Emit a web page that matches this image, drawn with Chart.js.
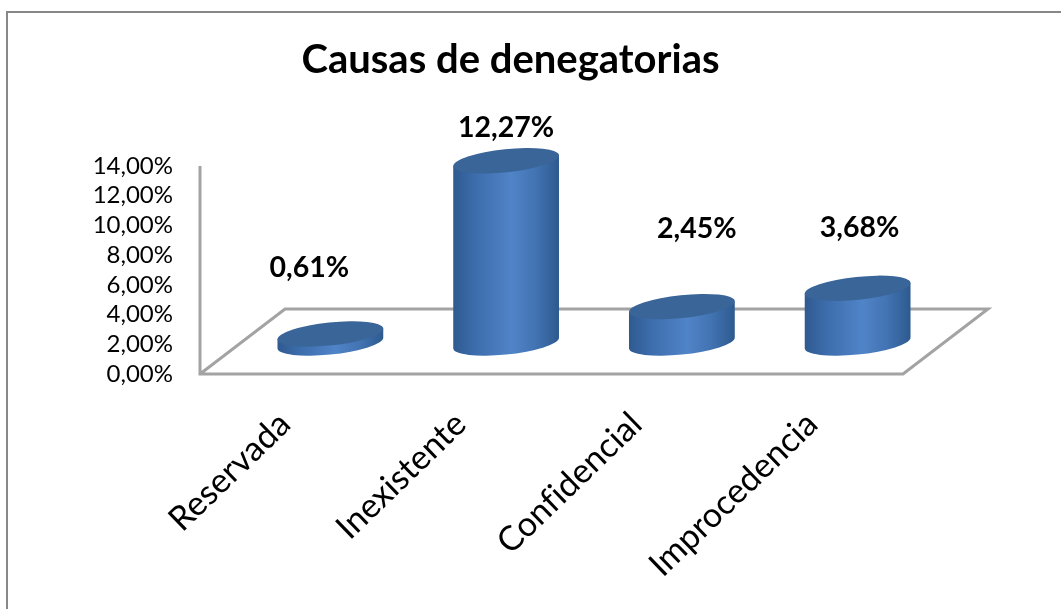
<!DOCTYPE html>
<html><head><meta charset="utf-8">
<style>html,body{margin:0;padding:0;background:#fff}#w{width:1061px;height:609px}</style>
<script src="https://cdn.jsdelivr.net/npm/chart.js@4"></script></head>
<body><div id="w"><canvas id="c" width="1061" height="609"></canvas></div>
<script>
const titleText = 'Causas de denegatorias';
const categories = ['Reservada','Inexistente','Confidencial','Improcedencia'];
const values = [0.61,12.27,2.45,3.68];
const yMax = 14, yStep = 2;
const labelShiftX = [-21,0,15,2];
const labelShiftY = [-66,-33,-78,-61];
const FONT = 'Lato, Carlito, "Open Sans", sans-serif';
const fmt = v => v.toFixed(2).replace('.',',') + '%';

const DEPTH_X = 85, DEPTH_Y = 65, RY = 11.5, ROT = -6*Math.PI/180;

function cylinder(ctx, cx, topY, baseY, rx){
  const t0 = Math.atan((RY/rx)*Math.tan(-ROT));
  const ex = rx*Math.cos(t0)*Math.cos(ROT) - RY*Math.sin(t0)*Math.sin(ROT);
  const ey = rx*Math.cos(t0)*Math.sin(ROT) + RY*Math.sin(t0)*Math.cos(ROT);
  const g = ctx.createLinearGradient(cx-ex,0,cx+ex,0);
  g.addColorStop(0,'#2f5a90');g.addColorStop(0.2,'#3c6cab');g.addColorStop(0.55,'#5084c8');
  g.addColorStop(0.78,'#4273b2');g.addColorStop(1,'#2d5a8f');
  ctx.beginPath();
  ctx.moveTo(cx-ex,topY-ey);
  ctx.lineTo(cx-ex,baseY-ey);
  ctx.ellipse(cx,baseY,rx,RY,ROT,t0+Math.PI,t0,true);
  ctx.lineTo(cx+ex,topY+ey);
  ctx.closePath();
  ctx.fillStyle=g;ctx.fill();
  ctx.beginPath();
  ctx.ellipse(cx,topY,rx,RY,ROT,0,Math.PI*2);
  ctx.fillStyle='#3a6598';ctx.fill();
}

const scene = {
  id:'scene',
  beforeDraw(chart){ chart.ctx.textRendering='optimizeSpeed'; },
  beforeDatasetsDraw(chart){
    const {ctx,chartArea:a}=chart;
    ctx.save();
    ctx.strokeStyle='#888';ctx.lineWidth=2;
    ctx.beginPath();ctx.moveTo(7,609);ctx.lineTo(7,12);ctx.lineTo(1061,12);ctx.stroke();
    ctx.strokeStyle='#a3a3a3';ctx.lineWidth=3;ctx.lineJoin='miter';
    ctx.beginPath();
    ctx.moveTo(a.left,a.top);ctx.lineTo(a.left,a.bottom);ctx.lineTo(a.right,a.bottom);
    ctx.lineTo(a.right+DEPTH_X,a.bottom-DEPTH_Y);ctx.lineTo(a.left+DEPTH_X,a.bottom-DEPTH_Y);
    ctx.lineTo(a.left,a.bottom);ctx.stroke();
    ctx.restore();
  },
  afterDatasetsDraw(chart){
    const {ctx}=chart;
    const bars=chart.getDatasetMeta(0).data;
    ctx.save();
    bars.forEach((b,i)=>{
      const cx=b.x+DEPTH_X/2, off=DEPTH_Y/2-1.5;
      cylinder(ctx,cx,b.y-off,b.base-off,b.width/2);
      ctx.fillStyle='#000';ctx.font='bold 28.5px '+FONT;ctx.textAlign='center';ctx.textBaseline='middle';
      ctx.fillText(fmt(values[i]),cx+labelShiftX[i],b.y-off+labelShiftY[i]);
    });
    ctx.restore();
  }
};

new Chart(document.getElementById('c'),{
  type:'bar',
  data:{labels:categories,datasets:[{data:values,backgroundColor:'rgba(0,0,0,0)',categoryPercentage:1,barPercentage:0.605}]},
  plugins:[scene],
  options:{
    responsive:false,animation:false,
    layout:{padding:{left:0,right:40,top:0,bottom:0}},
    plugins:{legend:{display:false},tooltip:{enabled:false},
      title:{display:true,text:titleText,color:'#000',font:{family:FONT,size:40,weight:'bold',lineHeight:1.2},padding:{top:36,bottom:82}}},
    scales:{
      x:{grid:{display:false},border:{display:false},
        afterFit:s=>{s.height=235},
        ticks:{autoSkip:false,minRotation:44,maxRotation:44,padding:22,labelOffset:-3,color:'#000',font:{family:FONT,size:34}}},
      y:{min:0,max:yMax,grid:{display:false},border:{display:false},
        afterFit:s=>{s.width=200},
        ticks:{autoSkip:false,stepSize:yStep,padding:19,color:'#000',font:{family:FONT,size:24},callback:v=>fmt(v)}},
      spare:{position:'right',display:true,grid:{display:false},border:{display:false},ticks:{display:false},
        afterFit:s=>{s.width=118}}
    }
  }
});
</script></body></html>
